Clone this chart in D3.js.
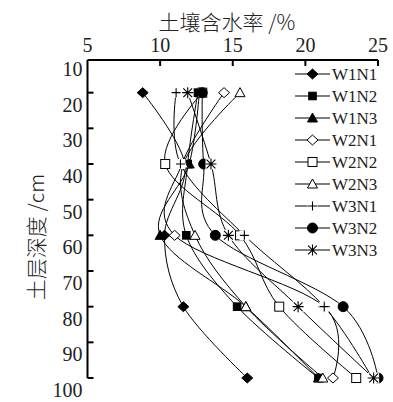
<!DOCTYPE html>
<html>
<head>
<meta charset="utf-8">
<script src="https://cdn.jsdelivr.net/npm/d3@7"></script>
<style>
  html, body { margin: 0; padding: 0; background: #fff; }
  svg { display: block; }
</style>
</head>
<body>
<svg id="chart" width="393" height="402"></svg>
<script>
// Soil moisture (%) by soil depth (cm) for nine treatments
const depths = [20, 40, 60, 80, 100];
const seriesNames = ["W1N1", "W1N2", "W1N3", "W2N1", "W2N2", "W2N3", "W3N1", "W3N2", "W3N3"];
const W1N1 = [8.8, 11.7, 10.3, 11.6, 16.0];
const W1N2 = [12.6, 11.9, 11.8, 15.3, 20.9];
const W1N3 = [12.7, 12.0, 10.0, 15.9, 20.9];
const W2N1 = [14.4, 11.5, 11.0, 21.3, 21.9];
const W2N2 = [12.9, 10.35, 15.5, 18.2, 23.5];
const W2N3 = [15.5, 11.6, 12.4, 15.9, 21.2];
const W3N1 = [11.1, 11.4, 15.8, 21.3, 24.6];
const W3N2 = [12.9, 13.0, 13.8, 22.6, 25.0];
const W3N3 = [11.9, 13.5, 14.7, 19.5, 24.7];
const seriesValues = [W1N1, W1N2, W1N3, W2N1, W2N2, W2N3, W3N1, W3N2, W3N3];
const markerKinds = ["diamondFilled", "squareFilled", "triangleFilled", "diamondOpen", "squareOpen", "triangleOpen", "plus", "circleFilled", "asterisk"];

const xTicks = [5, 10, 15, 20, 25];
const yTicks = [10, 20, 30, 40, 50, 60, 70, 80, 90, 100];
const xTitle = "土壤含水率 /%";
const yTitle = "土层深度 /cm";

const svg = d3.select("#chart");
const serif = "'Liberation Serif', 'DejaVu Serif', serif";
const cjk = "'Noto Sans CJK SC', 'Noto Sans', sans-serif";

const x = d3.scaleLinear().domain([5, 25]).range([87.5, 378]);
const y = d3.scaleLinear().domain([10, 100]).range([57, 378]);
const axisTop = 60;

// x axis along the top, ticks pointing into the plot
const gx = svg.append("g").attr("transform", `translate(0,${axisTop})`);
gx.append("line").attr("x1", x(5)).attr("x2", x(25)).attr("y1", 0).attr("y2", 0)
  .attr("stroke", "#000").attr("stroke-width", 2);
gx.selectAll("line.tick").data(xTicks.slice(1)).join("line")
  .attr("class", "tick")
  .attr("x1", d => x(d)).attr("x2", d => x(d)).attr("y1", 0).attr("y2", 6)
  .attr("stroke", "#000").attr("stroke-width", 2);
gx.selectAll("text").data(xTicks).join("text")
  .attr("x", d => x(d)).attr("y", -8)
  .attr("text-anchor", "middle")
  .attr("font-family", serif).attr("font-size", 20).attr("fill", "#222")
  .text(d => d);

// y axis on the left, ticks pointing into the plot; labels sit just below their ticks
const gy = svg.append("g").attr("transform", `translate(${x(5)},0)`);
gy.append("line").attr("x1", 0).attr("x2", 0).attr("y1", axisTop).attr("y2", y(100))
  .attr("stroke", "#000").attr("stroke-width", 2);
gy.selectAll("line.tick").data(yTicks.slice(1)).join("line")
  .attr("class", "tick")
  .attr("x1", 0).attr("x2", 6).attr("y1", d => y(d)).attr("y2", d => y(d))
  .attr("stroke", "#000").attr("stroke-width", 2);
gy.selectAll("text").data(yTicks).join("text")
  .attr("x", -5).attr("y", d => y(d) + 12)
  .attr("text-anchor", "end").attr("dominant-baseline", "central")
  .attr("font-family", serif).attr("font-size", 20).attr("fill", "#222")
  .text(d => d);

// axis titles
svg.append("text")
  .attr("x", 227).attr("y", 30)
  .attr("text-anchor", "middle")
  .attr("font-family", cjk).attr("font-size", 21).attr("font-weight", 300).attr("fill", "#222")
  .text(xTitle);
svg.append("text")
  .attr("transform", "translate(35,237) rotate(-90)")
  .attr("text-anchor", "middle").attr("dominant-baseline", "central")
  .attr("font-family", cjk).attr("font-size", 21).attr("font-weight", 300).attr("fill", "#222")
  .text(yTitle);

// marker shapes
function drawMarker(g, kind, cx, cy) {
  if (kind.startsWith("diamond")) {
    g.append("path")
      .attr("d", `M${cx - 5.5},${cy}L${cx},${cy - 5}L${cx + 5.5},${cy}L${cx},${cy + 5}Z`)
      .attr("fill", kind.endsWith("Filled") ? "#000" : "#fff")
      .attr("stroke", "#000").attr("stroke-width", 1);
  } else if (kind.startsWith("square")) {
    const h = kind.endsWith("Filled") ? 3.8 : 4.5;
    g.append("rect").attr("x", cx - h).attr("y", cy - h).attr("width", 2 * h).attr("height", 2 * h)
      .attr("fill", kind.endsWith("Filled") ? "#000" : "#fff")
      .attr("stroke", "#000").attr("stroke-width", 1);
  } else if (kind.startsWith("triangle")) {
    g.append("path")
      .attr("d", `M${cx},${cy - 5}L${cx + 5},${cy + 4}L${cx - 5},${cy + 4}Z`)
      .attr("fill", kind.endsWith("Filled") ? "#000" : "#fff")
      .attr("stroke", "#000").attr("stroke-width", 1);
  } else if (kind === "circleFilled") {
    g.append("circle").attr("cx", cx).attr("cy", cy).attr("r", 5)
      .attr("fill", "#000").attr("stroke", "#000");
  } else if (kind === "plus") {
    g.append("rect").attr("x", cx - 5).attr("y", cy - 5).attr("width", 10).attr("height", 10).attr("fill", "#fff");
    g.append("path").attr("d", `M${cx - 4.5},${cy}H${cx + 4.5}M${cx},${cy - 4.5}V${cy + 4.5}`)
      .attr("stroke", "#000").attr("stroke-width", 1.1).attr("fill", "none");
  } else if (kind === "asterisk") {
    g.append("rect").attr("x", cx - 5.5).attr("y", cy - 5.5).attr("width", 11).attr("height", 11).attr("fill", "#fff");
    const r = 5.5, d = r * 0.8;
    g.append("path")
      .attr("d", `M${cx - r},${cy}H${cx + r}M${cx},${cy - r}V${cy + r}M${cx - d},${cy - d}L${cx + d},${cy + d}M${cx - d},${cy + d}L${cx + d},${cy - d}`)
      .attr("stroke", "#000").attr("stroke-width", 1.1).attr("fill", "none");
  }
}

// smoothed profile lines
const line = d3.line()
  .x(d => x(d.v)).y(d => y(d.depth))
  .curve(d3.curveCardinal.tension(0));

const plot = svg.append("g");
const series = seriesNames.map((name, i) => ({
  name, kind: markerKinds[i],
  points: depths.map((depth, j) => ({ depth, v: seriesValues[i][j] }))
}));

series.forEach(s => {
  plot.append("path").attr("d", line(s.points))
    .attr("fill", "none").attr("stroke", "#000").attr("stroke-width", 1);
});
series.forEach(s => {
  const g = plot.append("g");
  s.points.forEach(p => drawMarker(g, s.kind, x(p.v), y(p.depth)));
});

// legend
const legend = svg.append("g");
series.forEach((s, i) => {
  const ly = 74 + i * 22;
  const g = legend.append("g");
  g.append("line").attr("x1", 295).attr("x2", 330).attr("y1", ly).attr("y2", ly)
    .attr("stroke", "#000").attr("stroke-width", 1.2);
  drawMarker(g, s.kind, 312.5, ly);
  g.append("text").attr("x", 332).attr("y", ly).attr("dominant-baseline", "central")
    .attr("font-family", serif).attr("font-size", 17).attr("fill", "#222")
    .text(s.name);
});
</script>
</body>
</html>
